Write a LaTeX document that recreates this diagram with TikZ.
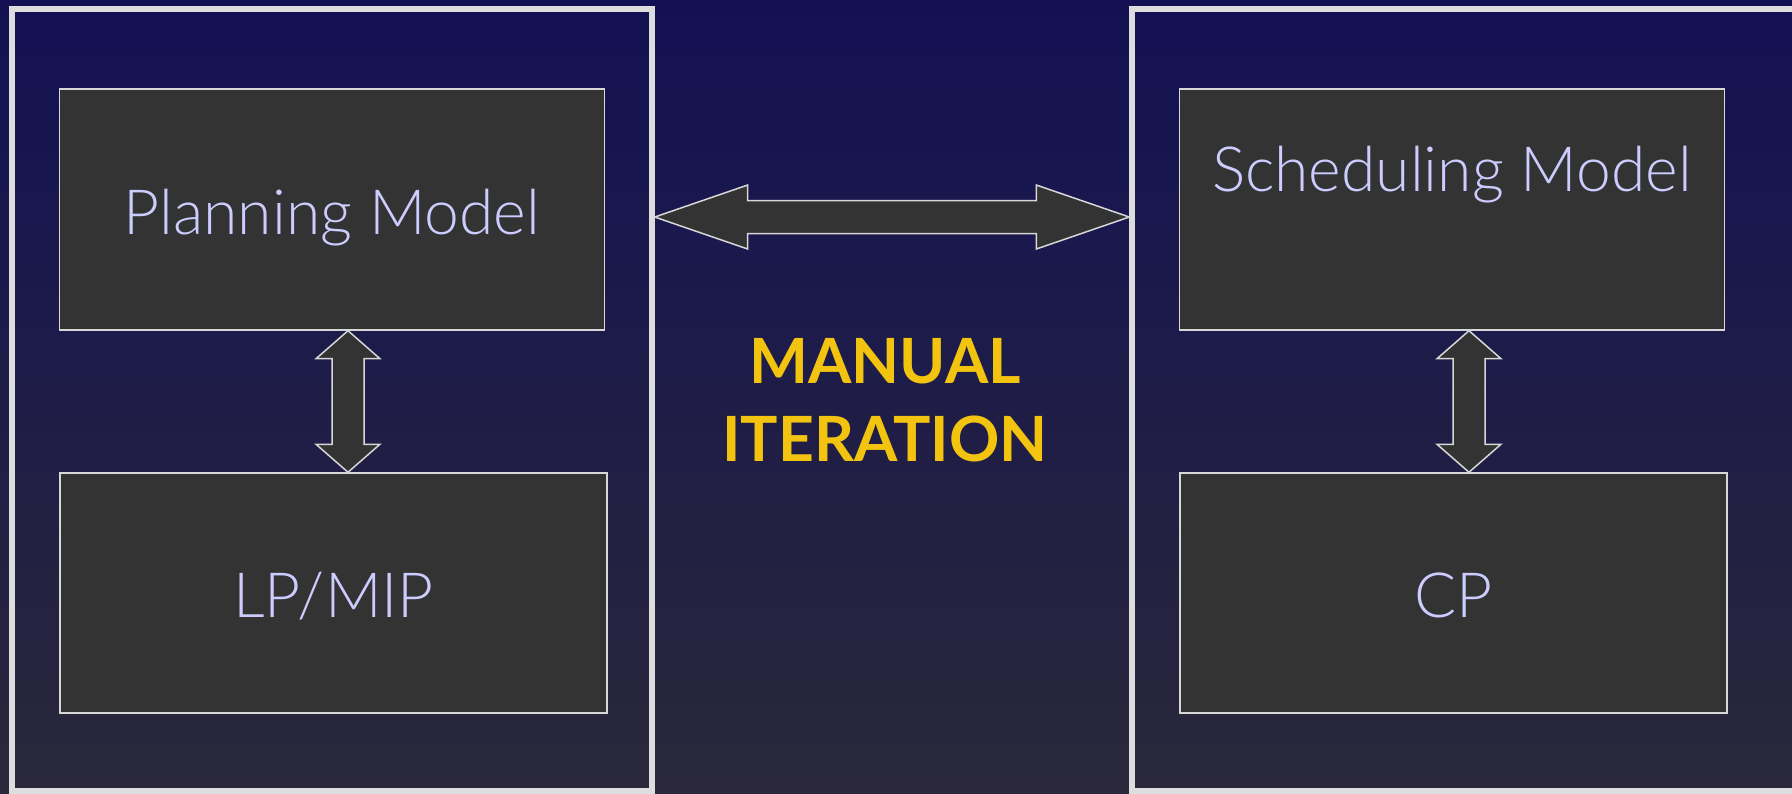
\documentclass[tikz,border=0pt]{standalone}
\usepackage{fontspec}
\newfontfamily\boxfont{Lato Light}
\newfontfamily\iterfont{Lato Bold}
\usetikzlibrary{calc}
\definecolor{navytop}{RGB}{19,17,84}
\definecolor{navybot}{RGB}{42,40,58}
\definecolor{framegray}{RGB}{221,221,221}
\definecolor{boxfill}{RGB}{51,51,51}
\definecolor{boxline}{RGB}{215,215,215}
\definecolor{lavender}{RGB}{204,204,255}
\definecolor{gold}{RGB}{242,196,16}
% block arrows with a head at both ends
\newcommand\harrow[2]{%
  \draw[blockarrow] (#1) -- ++(93,32) -- ++(0,-15.5) -- ($(#2)+(-93,16.5)$)
    -- ++(0,15.5) -- (#2) -- ++(-93,-32) -- ++(0,15.5)
    -- ($(#1)+(93,-16.5)$) -- ++(0,-15.5) -- cycle;}
\newcommand\varrow[2]{%
  \draw[blockarrow] (#1) -- ++(32,-28) -- ++(-16,0) -- ($(#2)+(16,28)$)
    -- ++(16,0) -- (#2) -- ++(-32,28) -- ++(16,0)
    -- ($(#1)+(-16,-28)$) -- ++(-16,0) -- cycle;}
\tikzset{
  outerframe/.style={draw=framegray, line width=0.11cm, minimum height=15.64cm},
  model/.style={draw=boxline, fill=boxfill, line width=0.03cm,
    text=lavender, font=\boxfont\fontsize{35.5}{42}\selectfont,
    text height=1.2cm, text depth=0.2cm},
  modeltext/.style={text=lavender, font=\boxfont\fontsize{35.5}{42}\selectfont,
    anchor=base, inner sep=0pt},
  blockarrow/.style={draw=boxline, fill=boxfill, line width=0.03cm, line join=miter},
  iteration/.style={text=gold, font=\iterfont\fontsize{35.5}{44.4}\selectfont,
    align=center, inner sep=0pt}
}
\begin{document}
\begin{tikzpicture}[x=0.02cm, y=0.02cm]
\useasboundingbox (0,0) rectangle (1792,794);
\clip (0,0) rectangle (1792,794);
\shade[top color=navytop, bottom color=navybot] (0,0) rectangle (1792,794);

\node[outerframe, minimum width=12.8cm] (lframe) at (332,394) {};
\node[outerframe, minimum width=13.26cm] (rframe) at (1463.5,394) {};

\node[model, minimum width=10.9cm, minimum height=4.82cm] (plan) at (332,584.5) {Planning Model};
\node[model, minimum width=10.94cm, minimum height=4.8cm] (lp) at (333.5,201) {LP/MIP};
\node[model, minimum width=10.9cm, minimum height=4.82cm] (sched) at (1452,584.5) {};
\node[modeltext] (schedtext) at ([yshift=0.35cm]sched.center) {Scheduling Model};
\node[model, minimum width=10.94cm, minimum height=4.8cm] (cp) at (1453.5,201) {CP};

\node[iteration] (iter) at (885,393.5) {MANUAL\\ITERATION};

\coordinate (hl) at ([yshift=3.66cm]lframe.east);
\coordinate (hr) at (hl -| rframe.west);
\harrow{hl}{hr}

\coordinate (pt) at ([xshift=0.32cm]plan.south);
\coordinate (pb) at (pt |- lp.north);
\varrow{pt}{pb}

\coordinate (st) at ([xshift=0.34cm]sched.south);
\coordinate (sb) at (st |- cp.north);
\varrow{st}{sb}
\end{tikzpicture}
\end{document}
